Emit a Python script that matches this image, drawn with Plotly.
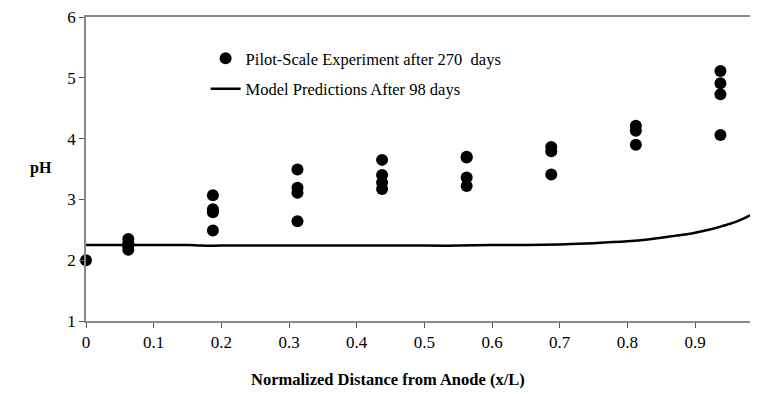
import plotly.graph_objects as go

# Pilot-scale experiment data (x/L, pH)
exp_x = [0.0,
         0.0625, 0.0625, 0.0625, 0.0625,
         0.1875, 0.1875, 0.1875, 0.1875,
         0.3125, 0.3125, 0.3125, 0.3125,
         0.4375, 0.4375, 0.4375, 0.4375,
         0.5625, 0.5625, 0.5625, 0.5625,
         0.6875, 0.6875, 0.6875,
         0.8125, 0.8125, 0.8125,
         0.9375, 0.9375, 0.9375, 0.9375]
exp_ph = [2.0,
          2.35, 2.28, 2.23, 2.17,
          3.07, 2.84, 2.79, 2.49,
          3.49, 3.19, 3.11, 2.64,
          3.65, 3.40, 3.28, 3.17,
          3.70, 3.69, 3.36, 3.22,
          3.86, 3.79, 3.41,
          4.21, 4.13, 3.90,
          5.11, 4.91, 4.73, 4.06]

# Model prediction curve
model_x = [0.0, 0.05, 0.10, 0.15, 0.17, 0.20, 0.30, 0.40, 0.50, 0.55, 0.60, 0.65, 0.70,
           0.75, 0.80, 0.83, 0.85, 0.87, 0.89, 0.90, 0.92, 0.94, 0.96, 0.98, 0.995]
model_ph = [2.25, 2.25, 2.25, 2.25, 2.24, 2.24, 2.24, 2.24, 2.24, 2.24, 2.25, 2.25, 2.26,
            2.28, 2.31, 2.34, 2.37, 2.40, 2.43, 2.45, 2.50, 2.56, 2.63, 2.73, 2.81]

x_ticks = [0, 0.1, 0.2, 0.3, 0.4, 0.5, 0.6, 0.7, 0.8, 0.9]
x_tick_labels = ["0", "0.1", "0.2", "0.3", "0.4", "0.5", "0.6", "0.7", "0.8", "0.9"]
y_ticks = [1, 2, 3, 4, 5, 6]

FONT = "Times New Roman"

fig = go.Figure()
fig.add_trace(go.Scatter(
    x=exp_x, y=exp_ph, mode="markers",
    name="Pilot-Scale Experiment after 270  days",
    marker=dict(color="black", size=12),
    legendgroup="a", cliponaxis=False))
fig.add_trace(go.Scatter(
    x=model_x, y=model_ph, mode="lines",
    name="Model Predictions After 98 days",
    line=dict(color="black", width=2.5, shape="spline"),
    legendgroup="b"))

fig.update_layout(
    width=750, height=386,
    margin=dict(l=78, r=0, t=9, b=73, autoexpand=False),
    paper_bgcolor="white", plot_bgcolor="white",
    font=dict(family=FONT, size=16, color="black"),
    showlegend=True,
    legend=dict(x=0.178, y=0.921, xanchor="left", yanchor="top",
                bgcolor="rgba(0,0,0,0)", font=dict(size=16.5, family=FONT),
                tracegroupgap=6, traceorder="grouped"),
    xaxis=dict(range=[0, 0.993], tickvals=x_ticks, ticktext=x_tick_labels,
               showgrid=False, zeroline=False, showline=True, linecolor="#888888",
               linewidth=1.5, mirror=True, ticks="outside", ticklen=5, tickcolor="#555555",
               automargin=False, tickfont=dict(size=17, family=FONT)),
    yaxis=dict(range=[1, 6], tickvals=y_ticks, showgrid=False, zeroline=False,
               showline=True, linecolor="#888888", linewidth=1.5,
               ticks="outside", ticklen=5, tickcolor="#555555",
               ticklabeloverflow="allow", automargin=False,
               tickfont=dict(size=17, family=FONT)),
    annotations=[
        dict(text="<b>pH</b>", xref="paper", yref="paper", x=-0.067, y=0.503,
             xanchor="center", yanchor="middle", showarrow=False,
             font=dict(size=16, family=FONT)),
        dict(text="<b>Normalized Distance from Anode (x/L)</b>", xref="paper", yref="paper",
             x=0.449, y=-0.194, xanchor="center", yanchor="middle", showarrow=False,
             font=dict(size=16.5, family=FONT)),
    ],
)

fig.write_html("out.html")
